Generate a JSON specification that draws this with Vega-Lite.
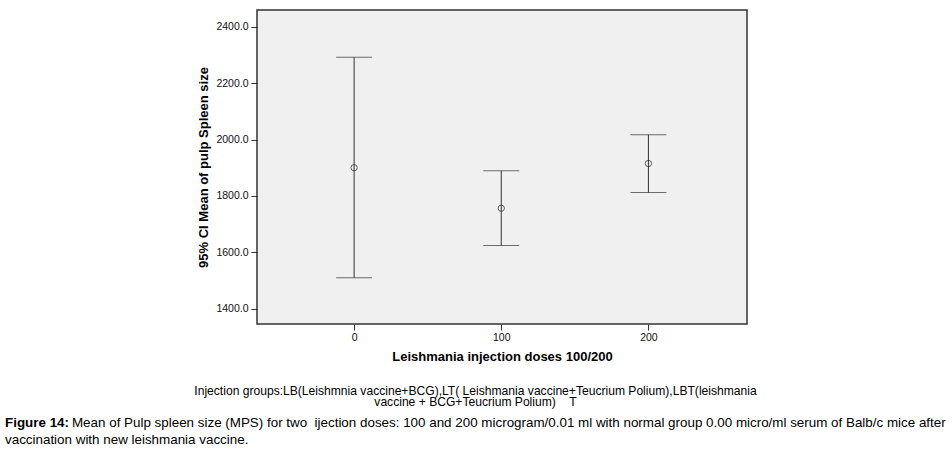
{
  "$schema": "https://vega.github.io/schema/vega-lite/v6.json",
  "width": 490,
  "height": 314,
  "autosize": {"type": "none"},
  "padding": {"left": 257, "top": 10, "right": 205, "bottom": 130},
  "background": "white",
  "config": {
    "view": {"fill": "#f0f0f0", "stroke": "#333333", "strokeWidth": 1.5},
    "font": "Liberation Sans"
  },
  "data": {
    "values": [
      {"dose": 0, "mean": 1900, "lower": 1509, "upper": 2292},
      {"dose": 100, "mean": 1756, "lower": 1624, "upper": 1889},
      {"dose": 200, "mean": 1915, "lower": 1812, "upper": 2017}
    ]
  },
  "title": {
    "text": "Figure 14:",
    "subtitle": [
      "\u200b\u00a0\u00a0\u00a0\u00a0\u00a0\u00a0\u00a0\u00a0\u00a0\u00a0\u00a0\u00a0\u00a0\u00a0\u00a0\u00a0\u00a0\u00a0Mean of Pulp spleen size (MPS) for two \u00a0ijection doses: 100 and 200 microgram/0.01 ml with normal group 0.00 micro/ml serum of Balb/c mice after",
      "vaccination with new leishmania vaccine."
    ],
    "orient": "bottom",
    "anchor": "start",
    "frame": "group",
    "dx": -252,
    "offset": 8,
    "font": "Liberation Sans",
    "fontSize": 13.4,
    "fontWeight": "bold",
    "color": "#000000",
    "subtitleFont": "Liberation Sans",
    "subtitleFontSize": 13.4,
    "subtitleFontWeight": "normal",
    "subtitleColor": "#000000",
    "subtitlePadding": -13.4,
    "subtitleLineHeight": 17
  },
  "resolve": {"axis": {"x": "independent"}},
  "layer": [
    {
      "mark": {"type": "rule", "color": "#333333", "strokeWidth": 1},
      "encoding": {
        "x": {
          "field": "dose", "type": "quantitative",
          "scale": {"domain": [-66, 267], "nice": false, "zero": false},
          "axis": {
            "orient": "bottom",
            "title": "Leishmania injection doses 100/200",
            "values": [0, 100, 200], "format": "d",
            "domain": false, "grid": false,
            "tickSize": 6, "tickColor": "#333333",
            "labelFontSize": 10.5, "labelColor": "#111111", "labelPadding": 2,
            "titleFontSize": 13, "titleFontWeight": "bold", "titleColor": "#000000", "titlePadding": 8
          }
        },
        "y": {
          "field": "lower", "type": "quantitative",
          "title": "95% CI Mean of pulp Spleen size",
          "scale": {"domain": [1345, 2460], "nice": false, "zero": false},
          "axis": {
            "values": [1400, 1600, 1800, 2000, 2200, 2400], "format": ".1f",
            "domain": false, "grid": false,
            "tickSize": 6, "tickColor": "#333333",
            "labelFontSize": 10.5, "labelColor": "#111111", "labelPadding": 3,
            "titleFontSize": 13, "titleFontWeight": "bold", "titleColor": "#000000", "titlePadding": 5
          }
        },
        "y2": {"field": "upper"}
      }
    },
    {
      "mark": {"type": "tick", "orient": "horizontal", "color": "#333333", "size": 36, "thickness": 1},
      "encoding": {
        "x": {"field": "dose", "type": "quantitative", "axis": null},
        "y": {"field": "lower", "type": "quantitative", "title": "95% CI Mean of pulp Spleen size"}
      }
    },
    {
      "mark": {"type": "tick", "orient": "horizontal", "color": "#333333", "size": 36, "thickness": 1},
      "encoding": {
        "x": {"field": "dose", "type": "quantitative", "axis": null},
        "y": {"field": "upper", "type": "quantitative", "title": "95% CI Mean of pulp Spleen size"}
      }
    },
    {
      "mark": {"type": "point", "shape": "circle", "filled": false, "color": "#222222", "size": 40, "strokeWidth": 1},
      "encoding": {
        "x": {
          "field": "dose", "type": "quantitative",
          "axis": {
            "orient": "bottom",
            "offset": 60,
            "title": [
              "Injection groups:LB(Leishmnia vaccine+BCG),LT( Leishmania vaccine+Teucrium Polium),LBT(leishmania",
              "vaccine + BCG+Teucrium Polium)\u00a0\u00a0\u00a0\u00a0T"
            ],
            "labels": false, "ticks": false, "domain": false, "grid": false,
            "titleFont": "Liberation Sans",
            "titleFontSize": 12.1, "titleFontWeight": "normal", "titleColor": "#000000",
            "titleLineHeight": 11.5, "titleX": 218, "titlePadding": 0
          }
        },
        "y": {"field": "mean", "type": "quantitative", "title": "95% CI Mean of pulp Spleen size"}
      }
    }
  ]
}
